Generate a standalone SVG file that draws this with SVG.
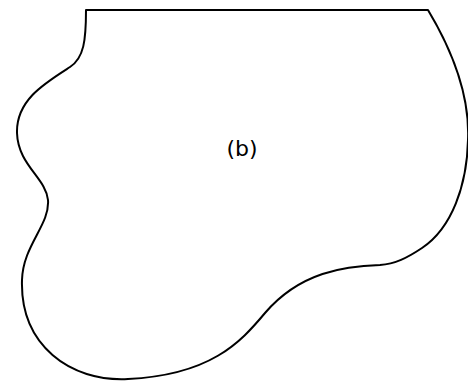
<svg xmlns="http://www.w3.org/2000/svg" width="468" height="381" viewBox="0 0 468 381">
<style>
.outline{fill:none;stroke:#000;stroke-width:2;stroke-linejoin:round}
.lbl{font-family:"DejaVu Sans",sans-serif;font-size:22px;fill:#000}
</style>
<rect width="468" height="381" fill="#fff"/>
<g id="region-b">
<path class="outline" d="M86,10 L428,10 C452,50 470,95 468,140 C467,185 452,228 422,248 C407,258 395,264 380,265 C345,266 300,272 265,313 C240,343 210,375 128,379 C70,382 20,345 22,280 C23,245 50,225 48,200 C46,178 18,165 17,133 C16,100 45,83 70,67 C84,58 86,40 86,10 Z"/>
<text class="lbl" x="242" y="156" text-anchor="middle">(b)</text>
</g>
</svg>
